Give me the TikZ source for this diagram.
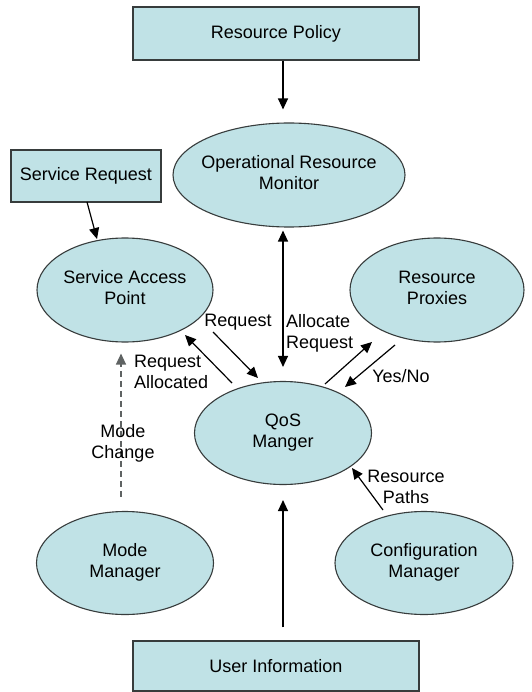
\documentclass[tikz,border=0pt]{standalone}
\usepackage{fontspec}
\setmainfont{Liberation Sans}
\usetikzlibrary{shapes.geometric,arrows.meta}
\definecolor{boxfill}{RGB}{192,226,230}
\definecolor{edgecol}{RGB}{55,60,60}
\newcommand{\twol}[2]{\makebox[0pt]{\begin{tabular}{@{}c@{}}#1\\#2\end{tabular}}}
\begin{document}
\begin{tikzpicture}[x=1pt,y=-1pt,
  font=\fontsize{18}{21}\selectfont,
  rbox/.style={draw=edgecol, line width=1.1pt, fill=boxfill, rectangle, inner sep=0pt},
  ell/.style={draw=edgecol, line width=1.1pt, fill=boxfill, ellipse, inner sep=0pt},
  arr/.style={line width=1.2pt, -{Triangle[length=11pt,width=10pt]}},
  darr/.style={line width=1.2pt, {Triangle[length=11pt,width=10pt]}-{Triangle[length=11pt,width=10pt]}},
  lbl/.style={inner sep=0pt}]
\useasboundingbox (0,0) rectangle (531,692);
\fill[white] (0,0) rectangle (531,692);

% nodes
\node[rbox, minimum width=286pt, minimum height=53pt] (rpol) at (276,33.5) {Resource Policy};
\node[rbox, minimum width=150pt, minimum height=52pt] (srq) at (86,176) {Service Request};
\node[ell, minimum width=232pt, minimum height=104pt] (orm) at (289,175) {\twol{Operational Resource}{Monitor}};
\node[ell, minimum width=176pt, minimum height=104pt] (sap) at (125,290) {\twol{Service Access}{Point}};
\node[ell, minimum width=174pt, minimum height=104pt] (rp) at (437,290) {\twol{Resource}{Proxies}};
\node[ell, minimum width=177pt, minimum height=103pt] (qos) at (283,433) {\twol{QoS}{Manger}};
\node[ell, minimum width=177pt, minimum height=103pt] (mm) at (125,563) {\twol{Mode}{Manager}};
\node[ell, minimum width=178pt, minimum height=103pt] (cm) at (424,563) {\twol{Configuration}{Manager}};
\node[rbox, minimum width=286pt, minimum height=50pt] (uinfo) at (276,666) {User Information};

% free ends of the diagonal connectors
\coordinate (srqA) at (87,202);
\coordinate (srqB) at (97,239);
\coordinate (reqA) at (213,332);
\coordinate (reqB) at (258,378);
\coordinate (ralA) at (232,383);
\coordinate (ralB) at (185,335);
\coordinate (rpA) at (325,384);
\coordinate (rpB) at (372,342);
\coordinate (ynA) at (395,345);
\coordinate (ynB) at (345,387);
\coordinate (paA) at (383,510);
\coordinate (paB) at (352,468);

% connectors
\draw[arr, shorten >=13pt] (rpol.south -| qos.center) -- (orm.north -| qos.center);
\draw[darr, shorten <=3pt, shorten >=14pt] (orm.south -| qos.center) -- (qos.north);
\draw[arr, shorten <=13pt, shorten >=15pt] (uinfo.north -| qos.center) -- (qos.south);
\draw[arr, draw=edgecol!80, dash pattern=on 6pt off 4pt, shorten <=14pt, shorten >=11pt]
  ([xshift=-4pt]mm.north) -- ([xshift=-4pt]sap.south);
\draw[arr] (srqA) -- (srqB);
\draw[arr] (reqA) -- (reqB);
\draw[arr] (ralA) -- (ralB);
\draw[arr] (rpA) -- (rpB);
\draw[arr] (ynA) -- (ynB);
\draw[arr] (paA) -- (paB);

% labels
\node[lbl] (lreq) at (238,322) {Request};
\node[lbl, anchor=west, align=left] (lalloc) at (286,333) {Allocate\\Request};
\node[lbl, anchor=west, align=left] (lral) at (134,372) {Request\\Allocated};
\node[lbl] (lyn) at (401,376) {Yes/No};
\node[lbl, align=center] (lmode) at (123,443) {Mode\\Change};
\node[lbl, align=center] (lpaths) at (406,487) {Resource\\Paths};
\end{tikzpicture}
\end{document}
